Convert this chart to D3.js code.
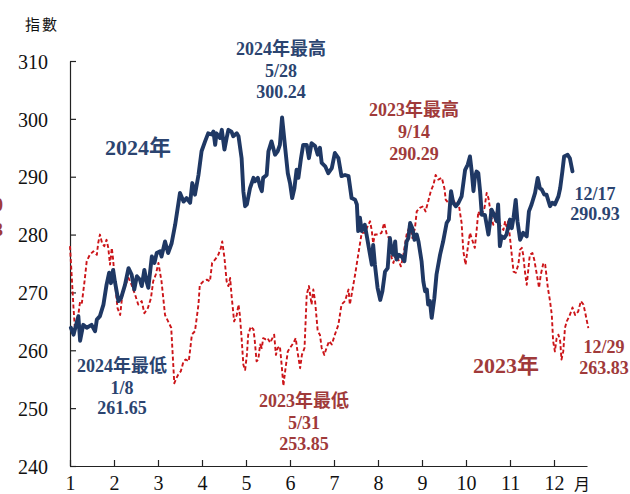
<!DOCTYPE html>
<html>
<head>
<meta charset="utf-8">
<script src="https://cdn.jsdelivr.net/npm/d3@7"></script>
<style>
  html, body { margin: 0; padding: 0; background: #fff; }
  svg { display: block; }
  text { font-family: "Liberation Serif", "Noto Sans CJK TC", serif; }
</style>
</head>
<body>
<svg id="chart" width="630" height="494"></svg>
<script>
// Index level, 2024 (month position, value)
const months2024 = [1.02,1.08,1.19,1.23,1.30,1.38,1.49,1.57,1.61,1.68,1.76,1.83,1.89,1.93,1.98,2.02,2.10,2.16,2.25,2.33,2.40,2.46,2.52,2.59,2.63,2.69,2.74,2.78,2.86,2.92,2.97,3.05,3.08,3.16,3.23,3.31,3.39,3.50,3.58,3.65,3.73,3.78,3.84,3.92,3.99,4.07,4.14,4.22,4.26,4.30,4.33,4.41,4.45,4.51,4.56,4.60,4.67,4.71,4.79,4.83,4.90,4.94,4.98,5.02,5.09,5.17,5.20,5.27,5.32,5.36,5.39,5.47,5.51,5.58,5.66,5.72,5.77,5.82,5.89,5.95,6.00,6.05,6.10,6.15,6.19,6.25,6.30,6.38,6.43,6.49,6.57,6.63,6.68,6.72,6.80,6.87,6.95,7.02,7.10,7.17,7.25,7.33,7.40,7.48,7.52,7.55,7.59,7.63,7.70,7.74,7.82,7.86,7.89,7.93,7.99,8.05,8.10,8.16,8.22,8.27,8.31,8.35,8.39,8.42,8.48,8.54,8.60,8.65,8.69,8.73,8.78,8.83,8.88,8.92,8.99,9.03,9.07,9.11,9.14,9.18,9.22,9.28,9.33,9.41,9.48,9.56,9.61,9.66,9.71,9.77,9.83,9.90,9.98,10.04,10.09,10.13,10.17,10.20,10.24,10.28,10.32,10.36,10.43,10.47,10.51,10.55,10.58,10.64,10.70,10.73,10.77,10.81,10.87,10.92,11.00,11.04,11.08,11.13,11.17,11.23,11.30,11.38,11.43,11.49,11.57,11.63,11.68,11.72,11.78,11.83,11.91,11.96,12.02,12.10,12.14,12.19,12.23,12.31,12.36,12.42];
const values2024 = [263.9,262.7,265.9,261.65,264.4,263.9,264.4,263.3,265.3,265.9,267.9,271.3,273.4,271.6,273.9,271.9,268.5,269.0,271.3,274.2,273.1,270.5,272.8,272.2,271.1,273.9,271.9,270.8,276.2,275.1,276.8,277.1,276.2,278.8,276.8,278.5,281.7,287.2,285.7,286.3,285.5,288.9,286.9,290.3,294.4,296.1,297.5,297.3,297.8,295.5,297.5,296.7,298.1,294.7,296.7,298.1,297.8,297.0,297.5,297.0,293.2,287.5,284.9,285.2,288.0,289.8,289.2,289.8,288.3,287.5,289.8,290.3,294.4,296.1,293.8,294.4,295.5,300.24,295.0,290.6,288.9,286.3,288.0,291.2,289.8,293.2,295.5,295.5,293.2,295.8,295.3,293.8,295.0,292.4,291.8,290.6,291.5,294.1,293.2,290.1,290.3,290.1,286.3,286.0,285.2,280.6,282.9,280.6,281.7,280.0,276.5,274.8,278.2,274.8,270.8,268.7,270.2,273.6,274.2,279.4,277.1,276.5,278.8,275.7,276.5,276.2,275.4,278.8,279.4,282.0,281.1,279.1,280.0,278.8,275.4,271.9,270.2,270.5,267.9,268.5,265.6,269.0,273.1,276.5,278.8,282.0,282.6,287.5,285.5,284.9,285.5,286.6,291.2,292.1,293.5,290.9,287.5,289.8,290.9,290.6,287.5,283.4,283.4,281.7,280.0,282.3,284.3,283.4,282.3,285.2,278.0,279.7,279.4,280.0,282.6,281.1,282.9,286.0,282.3,279.1,280.3,279.7,284.0,285.2,287.2,289.8,288.0,287.8,286.9,286.9,284.9,285.5,285.2,286.6,288.0,290.9,293.5,293.8,293.2,290.93];

// Index level, 2023 (month position, value)
const months2023 = [1.00,1.08,1.11,1.17,1.23,1.27,1.33,1.38,1.45,1.53,1.61,1.64,1.68,1.73,1.78,1.83,1.87,1.91,1.95,1.98,2.02,2.08,2.14,2.19,2.25,2.33,2.40,2.48,2.55,2.63,2.69,2.77,2.84,2.89,2.95,3.01,3.08,3.16,3.23,3.30,3.33,3.37,3.42,3.46,3.52,3.58,3.63,3.70,3.77,3.84,3.92,3.95,4.03,4.11,4.18,4.23,4.30,4.37,4.43,4.46,4.51,4.56,4.60,4.64,4.67,4.73,4.79,4.83,4.86,4.90,4.94,4.98,5.02,5.05,5.11,5.17,5.20,5.24,5.28,5.32,5.36,5.39,5.45,5.49,5.55,5.60,5.64,5.68,5.72,5.77,5.81,5.85,5.89,5.95,6.00,6.08,6.13,6.17,6.23,6.27,6.33,6.38,6.43,6.49,6.53,6.57,6.63,6.68,6.72,6.78,6.83,6.89,6.95,7.02,7.10,7.17,7.25,7.33,7.36,7.40,7.48,7.55,7.63,7.70,7.78,7.82,7.86,7.89,7.93,8.01,8.08,8.14,8.20,8.27,8.31,8.35,8.40,8.46,8.52,8.57,8.65,8.73,8.78,8.84,8.88,8.95,9.03,9.08,9.14,9.20,9.26,9.31,9.37,9.45,9.51,9.54,9.60,9.66,9.71,9.77,9.83,9.90,9.94,9.99,10.04,10.09,10.14,10.20,10.24,10.28,10.34,10.42,10.47,10.51,10.55,10.58,10.62,10.66,10.70,10.73,10.77,10.85,10.89,10.92,10.96,11.00,11.04,11.08,11.13,11.19,11.23,11.27,11.30,11.34,11.38,11.42,11.45,11.51,11.55,11.61,11.66,11.70,11.76,11.80,11.86,11.91,11.95,11.98,12.02,12.06,12.10,12.14,12.17,12.21,12.25,12.29,12.36,12.42,12.48,12.55,12.61,12.67,12.72,12.78];
const values2023 = [278.0,267.3,263.9,265.0,268.5,268.2,271.9,275.4,276.5,277.1,276.5,278.5,280.0,278.5,278.0,279.1,277.7,274.8,277.7,275.7,271.9,267.3,266.1,269.6,271.1,272.5,271.3,269.6,267.9,268.5,266.4,267.3,269.0,271.9,273.1,275.1,271.9,266.1,265.0,263.9,259.8,254.3,255.2,255.8,256.4,258.1,258.4,258.1,262.7,263.3,267.9,271.3,271.9,272.2,271.9,275.1,275.7,276.5,277.7,278.8,276.0,271.9,271.1,272.5,269.6,265.0,266.1,267.9,266.1,262.1,257.5,256.6,259.2,262.7,264.1,263.6,261.6,258.1,258.4,261.0,260.4,262.1,261.9,262.1,261.3,262.1,262.7,259.2,260.4,260.7,257.5,253.85,256.4,259.8,260.4,261.3,262.1,259.8,256.9,259.2,260.4,269.6,271.1,267.9,270.5,268.5,263.3,262.7,260.4,259.2,260.4,261.6,261.0,262.7,264.4,267.9,268.5,270.5,267.9,269.6,273.1,276.5,280.3,280.3,281.7,282.3,280.6,278.5,280.0,280.0,280.3,282.0,280.0,279.1,276.0,275.1,276.5,275.7,274.5,276.2,280.0,281.7,279.4,281.1,284.0,284.6,284.9,284.0,285.7,287.5,288.6,290.29,289.5,289.8,288.0,286.0,285.5,285.2,286.0,285.2,285.5,282.0,277.1,274.8,277.7,280.3,279.1,277.7,280.6,284.0,283.2,284.6,287.2,286.3,284.3,282.9,281.7,282.3,284.0,284.3,281.7,280.8,282.3,281.4,282.3,279.4,276.5,273.6,273.4,274.8,277.4,277.7,276.5,273.6,271.3,274.2,276.5,276.8,275.7,273.1,270.8,273.1,275.1,274.8,270.8,268.5,266.1,261.6,259.8,262.1,262.7,261.6,258.4,259.8,263.9,265.0,266.1,267.4,266.1,266.7,268.5,267.9,266.1,263.83];

const yTickValues = [240, 250, 260, 270, 280, 290, 300, 310];
const monthTicks = [1, 2, 3, 4, 5, 6, 7, 8, 9, 10, 11, 12];

const NAVY = "#1f3864";
const NAVY_TEXT = "#2b4470";
const RED = "#cc1418";
const RED_TEXT = "#a03a3a";

const svg = d3.select("#chart");

const x = d3.scaleLinear().domain([1, 12.75]).range([70, 587]);
const y = d3.scaleLinear().domain([240, 310]).range([466, 61]);

// Y axis
const yAxis = d3.axisLeft(y)
  .tickValues(yTickValues)
  .tickSizeInner(-6)
  .tickSizeOuter(0)
  .tickPadding(22)
  .tickFormat(d3.format("d"));
const gy = svg.append("g").attr("transform", "translate(70,0)").call(yAxis);
gy.selectAll("text")
  .attr("font-size", 20)
  .attr("font-family", "Liberation Serif")
  .attr("fill", "#111")
  .attr("dy", "0.36em");
gy.selectAll("line, path").attr("stroke", "#222").attr("stroke-width", 1.2);

// X axis
const xAxis = d3.axisBottom(x)
  .tickValues(monthTicks)
  .tickSizeInner(-6)
  .tickSizeOuter(0)
  .tickPadding(10)
  .tickFormat(d3.format("d"));
const gx = svg.append("g").attr("transform", "translate(0,466)").call(xAxis);
gx.selectAll("text")
  .attr("font-size", 20)
  .attr("font-family", "Liberation Serif")
  .attr("fill", "#111");
gx.selectAll("line, path").attr("stroke", "#222").attr("stroke-width", 1.2);

// Axis captions
svg.append("text").attr("x", 42).attr("y", 30).attr("text-anchor", "middle")
  .attr("font-family", "Noto Sans CJK TC").attr("font-size", 15)
  .attr("letter-spacing", 2).attr("fill", "#111").text("指數");
svg.append("text").attr("x", 582).attr("y", 490).attr("text-anchor", "middle")
  .attr("font-family", "Noto Sans CJK TC").attr("font-size", 16)
  .attr("fill", "#111").text("月");

const line = d3.line()
  .x(d => x(d[0]))
  .y(d => y(d[1]))
  .curve(d3.curveLinear);

const s2023 = months2023.map((m, i) => [m, values2023[i]]);
const s2024 = months2024.map((m, i) => [m, values2024[i]]);

svg.append("path")
  .datum(s2023)
  .attr("d", line)
  .attr("fill", "none")
  .attr("stroke", RED)
  .attr("stroke-width", 1.9)
  .attr("stroke-dasharray", "4,2.5")
  .attr("stroke-linejoin", "round");

svg.append("path")
  .datum(s2024)
  .attr("d", line)
  .attr("fill", "none")
  .attr("stroke", NAVY)
  .attr("stroke-width", 3.9)
  .attr("stroke-linejoin", "round")
  .attr("stroke-linecap", "round");

// Annotations
function label(lines, cx, baselines, color, size) {
  lines.forEach((t, i) => {
    svg.append("text")
      .attr("x", cx).attr("y", baselines[i])
      .attr("text-anchor", "middle")
      .attr("font-weight", "bold")
      .attr("font-size", size)
      .attr("fill", color)
      .text(t);
  });
}

label(["2024年"], 138, [155], NAVY_TEXT, 22);
label(["2023年"], 506, [373], RED_TEXT, 22);

label(["2024年最高", "5/28", "300.24"], 281, [55, 77, 98], NAVY_TEXT, 18);
label(["2024年最低", "1/8", "261.65"], 122, [372, 394, 414], NAVY_TEXT, 18);
label(["12/17", "290.93"], 595, [200, 220], NAVY_TEXT, 18);

label(["2023年最高", "9/14", "290.29"], 414, [116, 138, 160], RED_TEXT, 18);
label(["2023年最低", "5/31", "253.85"], 304, [407, 429, 450], RED_TEXT, 18);
label(["12/29", "263.83"], 604, [353, 374], RED_TEXT, 18);

// Side caption, mostly beyond the left edge
["20", "23"].forEach((t, i) => {
  svg.append("text")
    .attr("x", 3).attr("y", 211 + i * 25)
    .attr("text-anchor", "end")
    .attr("font-weight", "bold")
    .attr("font-size", 18)
    .attr("fill", RED_TEXT)
    .text(t);
});
</script>
</body>
</html>
